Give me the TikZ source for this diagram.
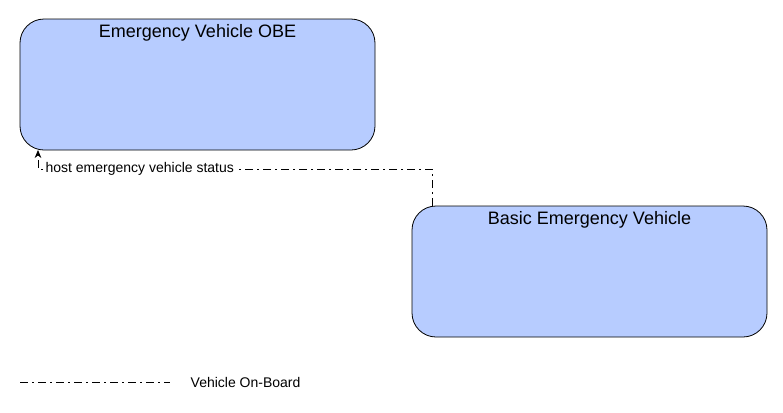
\documentclass[tikz,border=0pt]{standalone}
\usepackage{fontspec}
\setmainfont{Liberation Sans}
\usetikzlibrary{arrows.meta}
\definecolor{boxfill}{RGB}{183,204,255}
\begin{document}
\begin{tikzpicture}[x=0.75pt,y=-0.75pt,
  box/.style={draw=black,fill=boxfill,rounded corners=18pt,line width=0.6pt},
  title/.style={font=\fontsize{13.5}{15}\selectfont,anchor=north},
  flow/.style={line width=0.6pt,dash pattern=on 6pt off 3pt on 1.5pt off 3pt},
  lbl/.style={font=\fontsize{10.5}{12}\selectfont,fill=white,inner sep=1pt}]
\useasboundingbox (0,0) rectangle (783,412);
\draw[box] (20,19) rectangle (375,150);
\node[title] (t1) at (197.5,20) {Emergency Vehicle OBE};
\draw[box] (412,206) rectangle (767,337);
\node[title] (t2) at (589.5,207) {Basic Emergency Vehicle};
\coordinate (s) at (432,206);
\coordinate (e) at (38,150);
\draw[flow,-{Stealth[length=6pt,width=5pt]}] (s) |- (38,169) -- (e);
\node[lbl,anchor=west] (l) at (44,169) {host emergency vehicle status};
\coordinate (la) at (20,382);
\coordinate (lb) at (170,382);
\draw[flow] (la) -- (lb);
\node[font=\fontsize{10.5}{12}\selectfont,anchor=west] (lt) at (186,382) {Vehicle On-Board};
\end{tikzpicture}
\end{document}
